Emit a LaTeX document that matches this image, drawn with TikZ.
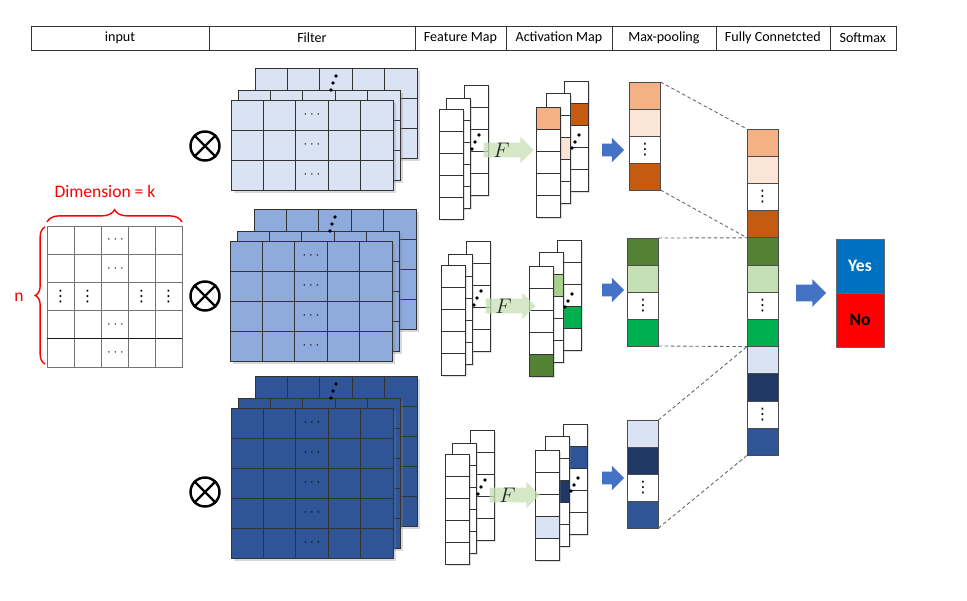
\documentclass[tikz,border=0pt]{standalone}
\usepackage{fontspec}
\setmainfont{Carlito}
\newfontfamily\symfont{DejaVu Sans}
\usetikzlibrary{positioning,shapes.arrows,decorations.pathreplacing,shadows}

\definecolor{orangeL}{HTML}{F4B183}
\definecolor{peach}{HTML}{FBE5D6}
\definecolor{orangeD}{HTML}{C55A11}
\definecolor{greenD}{HTML}{548235}
\definecolor{greenA}{HTML}{A9D18E}
\definecolor{greenL}{HTML}{C5E0B4}
\definecolor{greenM}{HTML}{00B050}
\definecolor{blueL}{HTML}{DAE3F3}
\definecolor{navy}{HTML}{203864}
\definecolor{blueM}{HTML}{2F5597}
\definecolor{filterA}{HTML}{DAE3F3}
\definecolor{filterB}{HTML}{8FAADC}
\definecolor{filterC}{HTML}{2F5597}
\definecolor{arrowblue}{HTML}{4472C4}
\definecolor{greenF}{HTML}{C5E0B4}
\definecolor{yesblue}{HTML}{0070C0}

% vertical dots glyph
\newcommand{\vdotsc}{{\symfont\fontsize{9}{10}\selectfont ⋮}}

\tikzset{
	hdr/.style={draw=black!80, minimum height=0.48cm, inner sep=0pt, outer sep=0pt, font=\fontsize{8}{9}\selectfont},
	filterlayer/.style={draw=black!80, line width=0.4pt, drop shadow={shadow xshift=1.5pt, shadow yshift=-1.5pt, opacity=0.3}},
	filterline/.style={black!80, line width=0.4pt},
	mapcol/.style={draw=black!80, fill=white, line width=0.4pt, drop shadow={shadow xshift=1pt, shadow yshift=-1pt, opacity=0.25}},
	mapline/.style={black!80, line width=0.4pt},
	ingrid/.style={black!55, line width=0.4pt},
	dotsym/.style={inner sep=0pt, font=\scriptsize},
	cell/.style={draw=black!70, minimum width=0.62cm, minimum height=0.54cm, inner sep=0pt, outer sep=0pt, font=\scriptsize},
	farrow/.style={single arrow, fill=greenF, fill opacity=0.75, draw=none, minimum height=1cm, inner xsep=0pt, inner ysep=0.14cm, single arrow head extend=0.12cm},
	barrow/.style={single arrow, fill=arrowblue, draw=none, minimum height=0.44cm, inner xsep=0pt, inner ysep=0.12cm, single arrow head extend=0.12cm},
	flabel/.style={font=\large, inner sep=0pt, text=black!85},
	redbrace/.style={red, line width=0.8pt, decorate},
	otimes/.style={circle, draw, line width=1.4pt, minimum size=0.58cm, inner sep=0pt},
	dashline/.style={black!60, dash pattern=on 2pt off 1.5pt, line width=0.5pt},
	softbox/.style={draw=black!60, minimum width=0.96cm, minimum height=1.08cm, inner sep=0pt, outer sep=0pt, font=\bfseries\fontsize{10}{11}\selectfont}
}

\begin{document}
\begin{tikzpicture}[x=0.02cm, y=-0.02cm]
	\useasboundingbox (0,0) rectangle (967,601);

	% header row
	\node[hdr, minimum width=3.56cm](hInput) at (120,38){input};
	\node[hdr, minimum width=4.12cm, right=0pt of hInput](hFilter){Filter};
	\node[hdr, minimum width=1.82cm, right=0pt of hFilter](hFeature){Feature Map};
	\node[hdr, minimum width=2.12cm, right=0pt of hFeature](hActivation){Activation Map};
	\node[hdr, minimum width=2.08cm, right=0pt of hActivation](hPooling){Max-pooling};
	\node[hdr, minimum width=2.28cm, right=0pt of hPooling](hFull){Fully Connetcted};
	\node[hdr, minimum width=1.32cm, right=0pt of hFull](hSoftmax){Softmax};

	% input matrix
	\draw[ingrid] (47,226) rectangle (182,367);
	\foreach \i in {1,...,4} {
		\draw[ingrid] (47+27*\i,226) -- (47+27*\i,367);
		\draw[ingrid] (47,226+28.2*\i) -- (182,226+28.2*\i);
	}
	\draw[black!90, line width=0.4pt] (47,338.8) -- (182,338.8);
	\foreach \r [count=\i] in {1,2,4,5}
		\node[dotsym](inH\i) at (115.5,211.9+28.2*\r){$\cdots$};
	\foreach \c [count=\i] in {1,2,4,5}
		\node[dotsym](inV\i) at (33.5+27*\c,296.5){\vdotsc};

	% braces
	\draw[redbrace, decoration={brace, amplitude=7pt}] (47,222) -- (182,222);
	\node[text=red, font=\fontsize{10}{12}\selectfont](dimLabel) at (105,191){Dimension = k};
	\draw[redbrace, decoration={brace, amplitude=5.5pt}] (45,364) -- (45,227);
	\node[text=red, font=\fontsize{10}{12}\selectfont](nLabel) at (19,297){n};

	% convolution signs
	\foreach \cy [count=\k] in {146,296,492} {
		\node[otimes](conv\k) at (205,\cy){};
		\draw[line width=1.4pt] (conv\k.north east) -- (conv\k.south west);
		\draw[line width=1.4pt] (conv\k.north west) -- (conv\k.south east);
	}

	% filter stacks
	\foreach \fx/\fy/\nr/\fc [count=\k] in {231/100/3/filterA, 230/241/4/filterB, 231/408/5/filterC} {
		\pgfmathtruncatemacro{\nrm}{\nr-1}
		\foreach \dx/\dy in {24/32, 7/10, 0/0} {
			\filldraw[filterlayer, fill=\fc] (\fx+\dx,\fy-\dy) rectangle ++(162,30*\nr);
			\foreach \i in {1,...,4}
				\draw[filterline] (\fx+\dx+32.4*\i,\fy-\dy) -- ++(0,30*\nr);
			\foreach \j in {1,...,\nrm}
				\draw[filterline] (\fx+\dx,\fy-\dy+30*\j) -- ++(162,0);
		}
		\foreach \ox/\oy in {81/8, 78/15, 76/22}
			\fill (\fx+24+\ox,\fy-32+\oy) circle (1.1pt);
		\foreach \j in {1,...,\nr}
			\node[dotsym](fd\k-\j) at (\fx+81,\fy-15+30*\j){$\cdots$};
	}

	% feature maps, activation maps and arrows
	\foreach \fx/\fy/\ax/\ay/\by/\fc/\fk/\mc/\mk/\bc/\bk [count=\g] in {
			439/109/536/107/150/orangeL/1/peach/3/orangeD/2,
			441/265/529/266/290/greenD/5/greenA/2/greenM/4,
			445/454/535/450/478/blueL/4/navy/3/blueM/2} {
		\foreach \dx/\dy in {25/24, 7/11, 0/0} {
			\filldraw[mapcol] (\fx+\dx,\fy-\dy) rectangle ++(24,110);
			\foreach \j in {1,...,4}
				\draw[mapline] (\fx+\dx,\fy-\dy+22*\j) -- ++(24,0);
		}
		\foreach \ox/\oy in {15/50, 11/57, 8/64}
			\fill (\fx+25+\ox,\fy-24+\oy) circle (1.1pt);
		\foreach \dx/\dy/\cc/\ck in {28/26/\bc/\bk, 10/14/\mc/\mk, 0/0/\fc/\fk} {
			\filldraw[mapcol] (\ax+\dx,\ay-\dy) rectangle ++(24,110);
			\fill[fill=\cc] (\ax+\dx,\ay-\dy+22*\ck-22) rectangle ++(24,22);
			\foreach \j in {1,...,4}
				\draw[mapline] (\ax+\dx,\ay-\dy+22*\j) -- ++(24,0);
			\draw[mapline] (\ax+\dx,\ay-\dy) rectangle ++(24,110);
		}
		\foreach \ox/\oy in {15/54, 11/61, 8/67}
			\fill (\ax+28+\ox,\ay-26+\oy) circle (1.1pt);
		\node[farrow](farr\g) at (\fx+66,\fy+41){};
		\node[flabel](flab\g) at ([xshift=-2pt]farr\g.center){$F$};
		\node[barrow](parr\g) at (610,\by){};
	}

	% max-pooling columns
	\foreach \c/\t [count=\i] in {orangeL/, peach/, white/\vdotsc, orangeD/}
		\node[cell, fill=\c](pA\i) at (645,68.5+27*\i){\t};
	\foreach \c/\t [count=\i] in {greenD/, greenL/, white/\vdotsc, greenM/}
		\node[cell, fill=\c](pB\i) at (643,224.5+27*\i){\t};
	\foreach \c/\t [count=\i] in {blueL/, navy/, white/\vdotsc, blueM/}
		\node[cell, fill=\c](pC\i) at (643,406.5+27*\i){\t};

	% fully connected column
	\foreach \c/\t [count=\i] in {orangeL/, peach/, white/\vdotsc, orangeD/, greenD/, greenL/, white/\vdotsc, greenM/, blueL/, navy/, white/\vdotsc, blueM/}
		\node[cell, minimum height=0.544cm, fill=\c](fc\i) at (762.5,115.4+27.2*\i){\t};

	% dashed links
	\draw[dashline] (pA1.north east) -- (fc1.north west);
	\draw[dashline] (pA4.south east) -- (fc4.south west);
	\draw[dashline] (pB1.north east) -- (fc5.north west);
	\draw[dashline] (pB4.south east) -- (fc8.south west);
	\draw[dashline] (pC1.north east) -- (fc9.north west);
	\draw[dashline] (pC4.south east) -- (fc12.south west);

	% softmax
	\node[barrow, minimum height=0.6cm, inner ysep=0.16cm, single arrow head extend=0.11cm](sarr) at (807,293){};
	\node[softbox, fill=yesblue, text=white](yes) at (860,266){Yes};
	\node[softbox, fill=red, below=0pt of yes](no){No};
\end{tikzpicture}
\end{document}
